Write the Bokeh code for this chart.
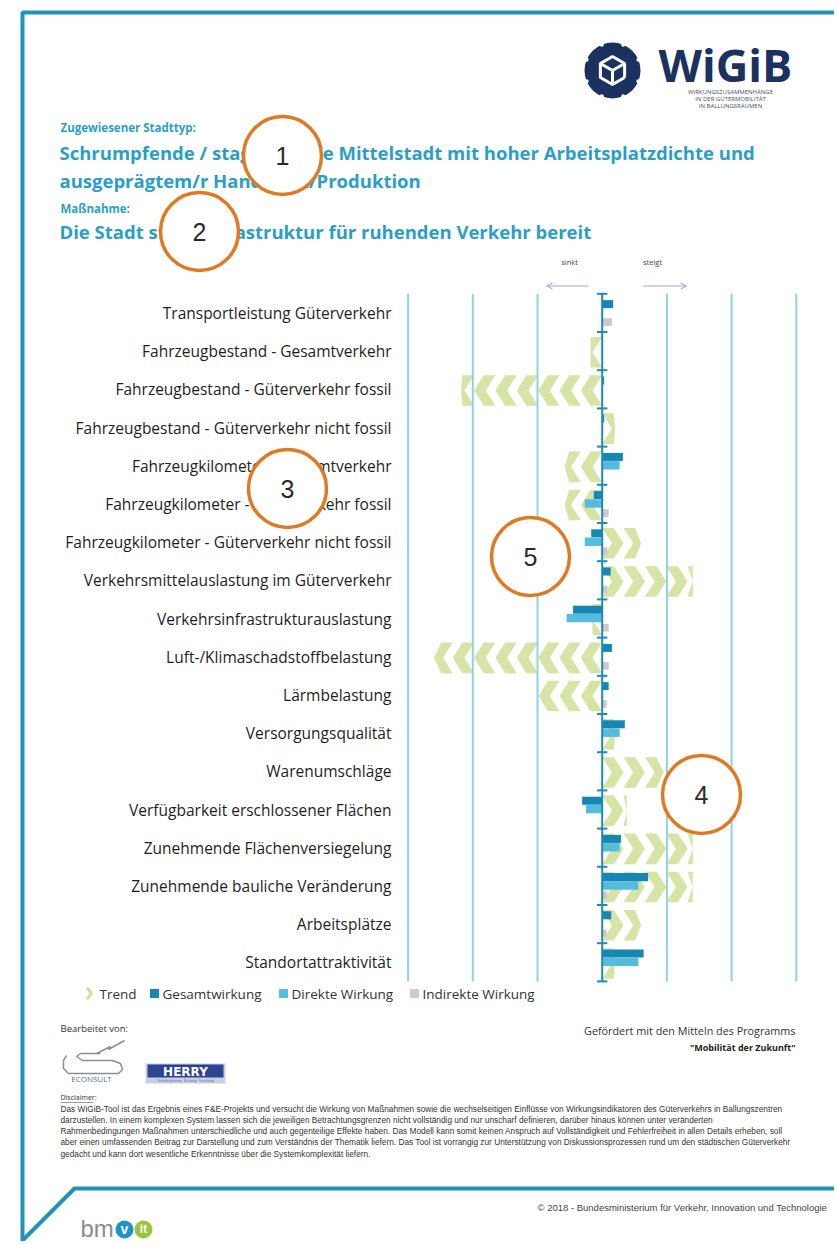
import math
from bokeh.plotting import figure
from bokeh.models import Range1d, Arrow, OpenHead
from bokeh.core.properties import value
from bokeh.embed import file_html
from bokeh.resources import INLINE

# ---------------- data ----------------
categories = [
    "Transportleistung Güterverkehr",
    "Fahrzeugbestand - Gesamtverkehr",
    "Fahrzeugbestand - Güterverkehr fossil",
    "Fahrzeugbestand - Güterverkehr nicht fossil",
    "Fahrzeugkilometer - Gesamtverkehr",
    "Fahrzeugkilometer - Güterverkehr fossil",
    "Fahrzeugkilometer - Güterverkehr nicht fossil",
    "Verkehrsmittelauslastung im Güterverkehr",
    "Verkehrsinfrastrukturauslastung",
    "Luft-/Klimaschadstoffbelastung",
    "Lärmbelastung",
    "Versorgungsqualität",
    "Warenumschläge",
    "Verfügbarkeit erschlossener Flächen",
    "Zunehmende Flächenversiegelung",
    "Zunehmende bauliche Veränderung",
    "Arbeitsplätze",
    "Standortattraktivität",
]
trend = [0.0, -0.18, -2.18, 0.2, -0.58, -0.58, 0.6, 1.4, -0.15, -2.6,
         -0.98, 0.2, 0.95, 0.38, 1.4, 1.4, 0.6, 0.2]
gesamt = [0.17, 0.0, 0.03, 0.03, 0.32, -0.13, -0.17, 0.13, -0.45, 0.15,
          0.10, 0.35, 0.0, -0.31, 0.29, 0.71, 0.14, 0.64]
direkt = [0.0, 0.0, 0.0, 0.0, 0.27, -0.27, -0.27, 0.0, -0.55, 0.0,
          0.0, 0.27, 0.0, -0.25, 0.27, 0.56, 0.0, 0.56]
indirekt = [0.15, 0.0, 0.0, 0.0, 0.0, 0.10, 0.08, 0.08, 0.10, 0.10,
            0.07, 0.0, 0.0, 0.0, 0.0, 0.08, 0.07, 0.0]
grid_values = [-3, -2, -1, 1, 2, 3]
legend_labels = ["Trend", "Gesamtwirkung", "Direkte Wirkung", "Indirekte Wirkung"]

title_small_1 = "Zugewiesener Stadttyp:"
title_1a = "Schrumpfende / stagnierende Mittelstadt mit hoher Arbeitsplatzdichte und"
title_1b = "ausgeprägtem/r Handwerk/Produktion"
title_small_2 = "Maßnahme:"
title_2 = "Die Stadt stellt Infrastruktur für ruhenden Verkehr bereit"
disclaimer_lines = [
    "Das WiGiB-Tool ist das Ergebnis eines F&E-Projekts und versucht die Wirkung von Maßnahmen sowie die wechselseitigen Einflüsse von Wirkungsindikatoren des Güterverkehrs in Ballungszentren",
    "darzustellen. In einem komplexen System lassen sich die jeweiligen Betrachtungsgrenzen nicht vollständig und nur unscharf definieren, darüber hinaus können unter veränderten",
    "Rahmenbedingungen Maßnahmen unterschiedliche und auch gegenteilige Effekte haben. Das Modell kann somit keinen Anspruch auf Vollständigkeit und Fehlerfreiheit in allen Details erheben, soll",
    "aber einen umfassenden Beitrag zur Darstellung und zum Verständnis der Thematik liefern. Das Tool ist vorrangig zur Unterstützung von Diskussionsprozessen rund um den städtischen Güterverkehr",
    "gedacht und kann dort wesentliche Erkenntnisse über die Systemkomplexität liefern.",
]

# ---------------- styles ----------------
TEAL = "#2a9fc6"
BORDER = "#1f93b8"
C_TREND = "#d6e4a6"
C_GES = "#1587b3"
C_DIR = "#55bcdd"
C_IND = "#d0c8ca"
C_GRID = "#8fd3e2"
C_AXIS = "#1f8ab5"
ORANGE = "#e07a22"
NAVY = "#1b3260"
FONT = "Open Sans"

# ---------------- figure (screen coordinates) ----------------
W, H = 834, 1241
p = figure(width=W, height=H, x_range=Range1d(0, W), y_range=Range1d(H, 0),
           output_backend="svg", toolbar_location=None, min_border=0,
           x_axis_location=None, y_axis_location=None)
p.grid.visible = False
p.outline_line_color = None
p.background_fill_color = "white"
p.border_fill_color = "white"

# chart scales: value axis and category index axis
CX0, UNIT = 601.7, 64.7
ROW0, ROWH = 293.3, 38.2
p.extra_x_ranges = {"val": Range1d((0 - CX0) / UNIT, (W - CX0) / UNIT)}
p.extra_y_ranges = {"cat": Range1d((H - ROW0) / ROWH, (0 - ROW0) / ROWH)}
n = len(categories)
idx = list(range(n))


def txt(x, y, s, size, color="#222222", font=FONT, style="normal", align="left",
        baseline="middle", **kw):
    p.text(x=[x], y=[y], text=[s], text_font=value(font), text_font_size=f"{size}px",
           text_color=color, text_font_style=style, text_align=align,
           text_baseline=baseline, **kw)


# ---------------- page frame ----------------
p.line(x=[W, 22, 22], y=[12, 12, H], line_color=BORDER, line_width=4)
p.line(x=[W, 74, 22], y=[1188, 1188, 1240], line_color=BORDER, line_width=4)

# ---------------- logo ----------------
GX, GY, GR = 612, 70, 28
p.circle(x=[GX], y=[GY], radius=GR, fill_color=NAVY, line_color=None)
for k in range(8):
    ang = k * math.pi / 4 + math.pi / 8
    p.circle(x=[GX + GR * math.cos(ang)], y=[GY + GR * math.sin(ang)], radius=2.0,
             fill_color="white", line_color=None)
hx = [GX + 14 * math.cos(math.pi / 6 + k * math.pi / 3) for k in range(7)]
hy = [GY + 14 * math.sin(math.pi / 6 + k * math.pi / 3) for k in range(7)]
p.line(x=hx, y=hy, line_color="white", line_width=3)
p.multi_line(xs=[[GX, hx[1]], [GX, hx[3]], [GX, hx[5]]],
             ys=[[GY, hy[1]], [GY, hy[3]], [GY, hy[5]]], line_color="white", line_width=3)
txt(658, 64, "WiGiB", 45, color=NAVY, style="bold")
for k, s in enumerate(["WIRKUNGSZUSAMMENHÄNGE", "IN DER GÜTERMOBILITÄT", "IN BALLUNGSRÄUMEN"]):
    txt(730, 91 + 7 * k, s, 6, color="#4a5060", align="center")

# ---------------- headings ----------------
txt(60, 127, title_small_1, 11.5, color=TEAL, style="bold")
txt(59, 152, title_1a, 18.5, color=TEAL, style="bold")
txt(59, 180, title_1b, 18.5, color=TEAL, style="bold")
txt(60, 208, title_small_2, 11.5, color=TEAL, style="bold")
txt(59, 231, title_2, 18.5, color=TEAL, style="bold")

# sinkt / steigt
txt(569, 261, "sinkt", 7.5, color="#444444", align="center")
txt(652, 261, "steigt", 7.5, color="#444444", align="center")
AC = "#9aa8dc"
p.add_layout(Arrow(end=OpenHead(size=6, line_color=AC, line_width=1), x_start=588, y_start=285.5,
                   x_end=546, y_end=285.5, line_color=AC, line_width=1))
p.add_layout(Arrow(end=OpenHead(size=6, line_color=AC, line_width=1), x_start=643, y_start=285.5,
                   x_end=686, y_end=285.5, line_color=AC, line_width=1))

# ---------------- trend chevrons ----------------
S, T, D = 0.33, 0.18, 0.15
TOP, BOT = 0.13, 0.93
cxs, cys = [], []
for i, tv in enumerate(trend):
    L = abs(tv)
    sgn = 1 if tv >= 0 else -1
    m = i + (TOP + BOT) / 2
    for k in range(math.ceil(L / S - 1e-9)):
        a = k * S
        px = [a, a + T, a + T + D, a + T, a, a + D]
        py = [i + TOP, i + TOP, m, i + BOT, i + BOT, m]
        cxs.append([sgn * min(v, L) for v in px])
        cys.append(py)
p.patches(xs=cxs, ys=cys, fill_color=C_TREND, line_color=None,
          x_range_name="val", y_range_name="cat")

# ---------------- grid lines ----------------
p.segment(x0=grid_values, x1=grid_values, y0=[0] * len(grid_values), y1=[n] * len(grid_values),
          line_color=C_GRID, line_width=2, x_range_name="val", y_range_name="cat")

# ---------------- bars ----------------
p.hbar(y=[i + 0.27 for i in idx], left=0, right=gesamt, height=0.21, fill_color=C_GES,
       line_color=None, x_range_name="val", y_range_name="cat")
p.hbar(y=[i + 0.49 for i in idx], left=0, right=direkt, height=0.22, fill_color=C_DIR,
       line_color=None, x_range_name="val", y_range_name="cat")
p.hbar(y=[i + 0.74 for i in idx], left=0, right=indirekt, height=0.2, fill_color=C_IND,
       line_color=None, x_range_name="val", y_range_name="cat")

# ---------------- centre axis ----------------
p.segment(x0=[0], x1=[0], y0=[0], y1=[n], line_color=C_AXIS, line_width=2,
          x_range_name="val", y_range_name="cat")
p.segment(x0=[-0.08] * (n + 1), x1=[0.08] * (n + 1), y0=list(range(n + 1)), y1=list(range(n + 1)),
          line_color=C_AXIS, line_width=2, x_range_name="val", y_range_name="cat")

# ---------------- category labels ----------------
p.text(x=[391] * n, y=[i + 0.5 for i in idx], text=categories, text_font=value(FONT),
       text_font_size="15.5px", text_color="#1e1e1e", text_align="right",
       text_baseline="middle", y_range_name="cat")

# ---------------- legend ----------------
LY = 993
p.patch(x=[85, 88.5, 92.5, 88.5, 85, 89], y=[987, 987, 993, 999, 999, 993],
        fill_color="#cfe08f", line_color=None)
txt(99, LY, legend_labels[0], 13.5, color="#333333")
p.scatter(x=[154], y=[LY], marker="square", size=9, fill_color=C_GES, line_color=None)
txt(162, LY, legend_labels[1], 13.5, color="#333333")
p.scatter(x=[283], y=[LY], marker="square", size=9, fill_color=C_DIR, line_color=None)
txt(291, LY, legend_labels[2], 13.5, color="#333333")
p.scatter(x=[414], y=[LY], marker="square", size=9, fill_color=C_IND, line_color=None)
txt(422, LY, legend_labels[3], 13.5, color="#333333")

# ---------------- footer ----------------
txt(60, 1028, "Bearbeitet von:", 9.5, color="#333333")
txt(795, 1030, "Gefördert mit den Mitteln des Programms", 10.8, color="#333333", align="right")
txt(795, 1047, "\"Mobilität der Zukunft\"", 9, color="#222222", style="bold", align="right")

# ECONSULT logo
p.line(x=[66, 63, 63, 68, 118, 122, 120, 112, 82, 76, 80, 100],
       y=[1055, 1060, 1068, 1073, 1073, 1069, 1063, 1060, 1060, 1056, 1053, 1053],
       line_color="#8a8f96", line_width=1.5)
p.line(x=[96, 110, 108, 124], y=[1053, 1046, 1049, 1040], line_color="#8a8f96", line_width=1.5)
txt(91, 1078, "ECONSULT", 8, color="#5d7090", align="center")
# HERRY logo
p.quad(left=[145], right=[225], top=[1063], bottom=[1083], fill_color="#c9d0e6", line_color=None)
p.quad(left=[147], right=[223], top=[1064], bottom=[1077], fill_color="#2c4492", line_color=None)
txt(185, 1071, "HERRY", 12, color="white", style="bold", align="center", font="DejaVu Sans")
txt(185, 1080, "Verkehrsplanung · Beratung · Forschung", 3, color="#556080", align="center")

txt(60, 1097, "Disclaimer:", 7, color="#333333")
p.segment(x0=[60], x1=[93], y0=[1102], y1=[1102], line_color="#555555", line_width=0.6)
for k, s in enumerate(disclaimer_lines):
    txt(60, 1108 + 11.3 * k, s, 8.3, color="#333333", font="Liberation Sans")

txt(537, 1207, "© 2018 - Bundesministerium für Verkehr, Innovation und Technologie", 9.5,
    color="#444444", font="Liberation Sans")

# bmvit logo
txt(80, 1228, "bm", 24, color="#8b8b8b", font="Liberation Sans")
p.circle(x=[124], y=[1229], radius=9, fill_color="#1f93c7", line_color=None)
txt(124, 1228, "v", 14, color="white", style="bold", align="center", font="Liberation Sans")
p.circle(x=[143], y=[1229], radius=9, fill_color="#9cc43a", line_color=None)
txt(143, 1228, "it", 12, color="white", style="bold", align="center", font="Liberation Sans")

# ---------------- numbered circles ----------------
cx = [282, 199, 287, 701, 530]
cy = [155, 231, 488, 794, 556]
labels_num = ["1", "2", "3", "4", "5"]
p.circle(x=cx, y=cy, radius=39, fill_color="white", line_color=ORANGE, line_width=3.5)
p.text(x=cx, y=cy, text=labels_num, text_font=value("Liberation Sans"), text_font_size="25px",
       text_color="#2a2a2a", text_align="center", text_baseline="middle")

open("out.html", "w").write(file_html(p, INLINE))
